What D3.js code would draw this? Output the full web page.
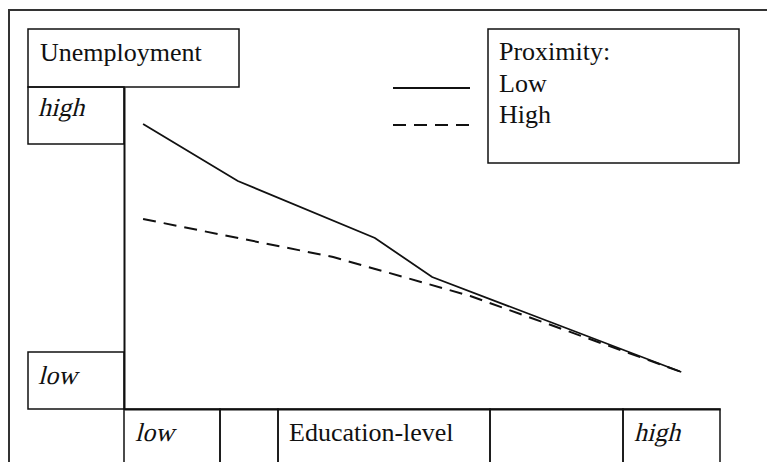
<!DOCTYPE html>
<html>
<head>
<meta charset="utf-8">
<script src="https://cdn.jsdelivr.net/npm/d3@7"></script>
<style>
    body { margin: 0; background: #fff; }
    svg { display: block; }
    .box { fill: none; stroke: #111; stroke-width: 1.5; }
</style>
</head>
<body>
<div id="chart"></div>
<script>
// Data (education level 0-100 on x, unemployment 0-100 on y)
const lowProxEdu = [3.2, 19.1, 42.1, 51.7, 93.5];
const lowProxUnemp = [88.5, 70.8, 53.1, 41.0, 11.5];
const highProxEdu = [3.2, 35.1, 58.1, 93.5];
const highProxUnemp = [59.0, 47.2, 35.1, 11.5];

const seriesNames = ["Low", "High"];
const legendTitle = "Proximity:";
const yTitle = "Unemployment";
const xTitle = "Education-level";
const tickLow = "low";
const tickHigh = "high";

const width = 767, height = 462;

const svg = d3.select("#chart")
    .append("svg")
    .attr("width", width)
    .attr("height", height);

// Scales
const x = d3.scaleLinear().domain([0, 100]).range([124, 720]);
const y = d3.scaleLinear().domain([0, 100]).range([409, 87]);

// Text helper; the italic face of Liberation Serif is not installed, so slant the regular one
function label(tx, ty, str, italic) {
    svg.append("text")
        .attr("transform", italic ? `translate(${tx},${ty}) skewX(-14)` : `translate(${tx},${ty})`)
        .style("font-family", "'Liberation Serif'")
        .style("font-size", "26px")
        .style("fill", "#111")
        .text(str);
}

// Outer frame (right and bottom run off the page)
svg.append("path")
    .attr("d", `M9,${height} V10 H${width}`)
    .attr("fill", "none")
    .attr("stroke", "#333")
    .attr("stroke-width", 2);

// Axes: just the domain lines
svg.append("g")
    .attr("transform", `translate(0,${y(0)})`)
    .call(d3.axisBottom(x).ticks(0).tickSizeOuter(0))
    .select(".domain").attr("stroke", "#111").attr("stroke-width", 2);

svg.append("g")
    .attr("transform", `translate(${x(0)},0)`)
    .call(d3.axisLeft(y).ticks(0).tickSizeOuter(0))
    .select(".domain").attr("stroke", "#111").attr("stroke-width", 2);

function box(x0, y0, x1, y1) {
    svg.append("rect")
        .attr("class", "box")
        .attr("x", x0).attr("y", y0)
        .attr("width", x1 - x0).attr("height", y1 - y0);
}

// Y title and tick boxes on the left
box(28, 29, 239, 87);
label(40, 61, yTitle, false);

box(28, 87, x(0), 144);
label(38, 116, tickHigh, true);

box(28, 352, x(0), y(0));
label(38, 384, tickLow, true);

// X label boxes along the bottom
const bottomEdges = [x(0), 220, 278, 490, 623, x(100)];
const bottomLabels = [tickLow, "", xTitle, "", tickHigh];
bottomLabels.forEach((lab, i) => {
    box(bottomEdges[i], y(0), bottomEdges[i + 1], height + 5);
    if (lab) label(bottomEdges[i] + 11, 441, lab, lab !== xTitle);
});

// Lines
const line = d3.line()
    .x(d => x(d[0]))
    .y(d => y(d[1]));

const lowData = lowProxEdu.map((e, i) => [e, lowProxUnemp[i]]);
const highData = highProxEdu.map((e, i) => [e, highProxUnemp[i]]);

svg.append("path")
    .datum(highData)
    .attr("fill", "none")
    .attr("stroke", "#111")
    .attr("stroke-width", 2)
    .attr("stroke-dasharray", "13 8")
    .attr("d", line);

svg.append("path")
    .datum(lowData)
    .attr("fill", "none")
    .attr("stroke", "#111")
    .attr("stroke-width", 1.8)
    .attr("d", line);

// Legend
svg.append("line")
    .attr("x1", 393).attr("x2", 470).attr("y1", 88).attr("y2", 88)
    .attr("stroke", "#111").attr("stroke-width", 1.8);
svg.append("line")
    .attr("x1", 393).attr("x2", 470).attr("y1", 125).attr("y2", 125)
    .attr("stroke", "#111").attr("stroke-width", 2)
    .attr("stroke-dasharray", "13 8");

box(488, 29, 739, 163);
label(499, 60, legendTitle, false);
seriesNames.forEach((name, i) => label(499, 92 + i * 31, name, false));
</script>
</body>
</html>
